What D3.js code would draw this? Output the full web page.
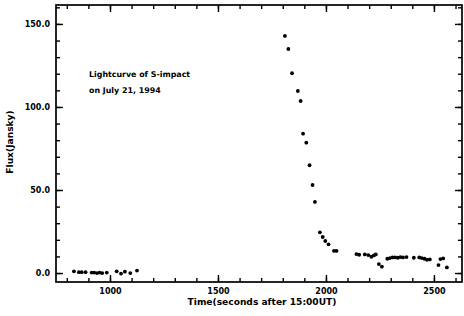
<!DOCTYPE html>
<html><head><meta charset="utf-8">
<script src="https://cdn.jsdelivr.net/npm/d3@7"></script>
<style>html,body{margin:0;padding:0;background:#fff;}svg{display:block;}</style>
</head><body>
<svg id="chart" width="464" height="316"></svg>
<script>
// Data: time (seconds after 15:00UT) and flux (Jansky)
const timeSec = [833, 856, 869, 887, 915, 927, 940, 952, 964, 985, 1031, 1051, 1069, 1094, 1125,
  1810, 1826, 1843, 1870, 1883, 1894, 1909, 1924, 1938, 1949, 1972, 1985, 1997, 2012, 2037, 2049,
  2141, 2154, 2180, 2196, 2210, 2222, 2231, 2245, 2259,
  2284, 2296, 2308, 2320, 2333, 2345, 2357, 2373, 2407, 2432, 2444, 2456, 2468, 2481,
  2521, 2530, 2543, 2560];
const fluxJy = [1.0, 0.5, 0.5, 0.5, 0.3, 0.3, 0.0, 0.3, 0.0, 0.3, 1.0, -0.3, 0.8, 0.0, 1.5,
  142.8, 134.9, 120.3, 109.6, 103.6, 83.9, 78.5, 64.9, 53.0, 42.8, 24.5, 21.7, 19.3, 17.3, 13.4, 13.3,
  11.4, 11.0, 11.2, 10.8, 9.8, 10.6, 11.2, 5.4, 3.8,
  8.6, 9.0, 9.4, 9.4, 9.2, 9.6, 9.4, 9.6, 9.2, 9.4, 9.0, 8.6, 8.0, 8.2,
  4.8, 8.4, 8.8, 3.4];
const xMajorTicks = [1000, 1500, 2000, 2500];
const xMinorTicks = d3.range(800, 2601, 100);
const yMajorTicks = [0, 50, 100, 150];
const yMinorTicks = d3.range(0, 161, 10);
const xTitle = "Time(seconds after 15:00UT)";
const yTitle = "Flux(Jansky)";
const noteLines = ["Lightcurve of S-impact", "on July 21, 1994"];

const svg = d3.select("#chart");
const L = 56, R = 462, T = 5, B = 282;
const x = d3.scaleLinear().domain([750, 2630]).range([L, R]);
const y = d3.scaleLinear().domain([-5.4, 161.4]).range([B, T]);
const font = "DejaVu Sans, sans-serif";

function styleAxis(g) {
  g.select(".domain").remove();
  g.selectAll("line").attr("stroke", "#000").attr("stroke-width", 1.4);
  g.selectAll("text").attr("font-family", font).attr("font-weight", "bold")
    .attr("font-size", 8).attr("fill", "#000");
}

// bottom axis
svg.append("g").attr("transform", `translate(0,${B})`)
  .call(d3.axisBottom(x).tickValues(xMinorTicks).tickFormat("").tickSizeInner(-4).tickSizeOuter(0)).call(styleAxis);
svg.append("g").attr("transform", `translate(0,${B})`)
  .call(d3.axisBottom(x).tickValues(xMajorTicks).tickFormat(d3.format("d")).tickSizeInner(-7).tickSizeOuter(0).tickPadding(6)).call(styleAxis);
// top axis
svg.append("g").attr("transform", `translate(0,${T})`)
  .call(d3.axisTop(x).tickValues(xMinorTicks).tickFormat("").tickSizeInner(-4).tickSizeOuter(0)).call(styleAxis);
svg.append("g").attr("transform", `translate(0,${T})`)
  .call(d3.axisTop(x).tickValues(xMajorTicks).tickFormat("").tickSizeInner(-7).tickSizeOuter(0)).call(styleAxis);
// left axis
svg.append("g").attr("transform", `translate(${L},0)`)
  .call(d3.axisLeft(y).tickValues(yMinorTicks).tickFormat("").tickSizeInner(-4).tickSizeOuter(0)).call(styleAxis);
svg.append("g").attr("transform", `translate(${L},0)`)
  .call(d3.axisLeft(y).tickValues(yMajorTicks).tickFormat(d3.format(".1f")).tickSizeInner(-7).tickSizeOuter(0).tickPadding(6)).call(styleAxis);
// right axis
svg.append("g").attr("transform", `translate(${R},0)`)
  .call(d3.axisRight(y).tickValues(yMinorTicks).tickFormat("").tickSizeInner(-4).tickSizeOuter(0)).call(styleAxis);
svg.append("g").attr("transform", `translate(${R},0)`)
  .call(d3.axisRight(y).tickValues(yMajorTicks).tickFormat("").tickSizeInner(-7).tickSizeOuter(0)).call(styleAxis);

// frame
svg.append("rect").attr("x", L).attr("y", T).attr("width", R - L).attr("height", B - T)
  .attr("fill", "none").attr("stroke", "#000").attr("stroke-width", 1.7);

// points
svg.append("g").selectAll("circle").data(timeSec).join("circle")
  .attr("cx", (d) => x(d)).attr("cy", (d, i) => y(fluxJy[i])).attr("r", 1.9).attr("fill", "#000");

// titles
svg.append("text").attr("x", 262).attr("y", 305).attr("text-anchor", "middle")
  .attr("font-family", font).attr("font-weight", "bold").attr("font-size", 9.1).text(xTitle);
svg.append("text").attr("transform", "translate(13,142) rotate(-90)").attr("text-anchor", "middle")
  .attr("font-family", font).attr("font-weight", "bold").attr("font-size", 9.1).text(yTitle);

// note
svg.append("g").selectAll("text").data(noteLines).join("text")
  .attr("x", 89).attr("y", (d, i) => 77 + i * 16)
  .attr("font-family", font).attr("font-weight", "bold").attr("font-size", 7.9).text((d) => d);
</script>
</body></html>
